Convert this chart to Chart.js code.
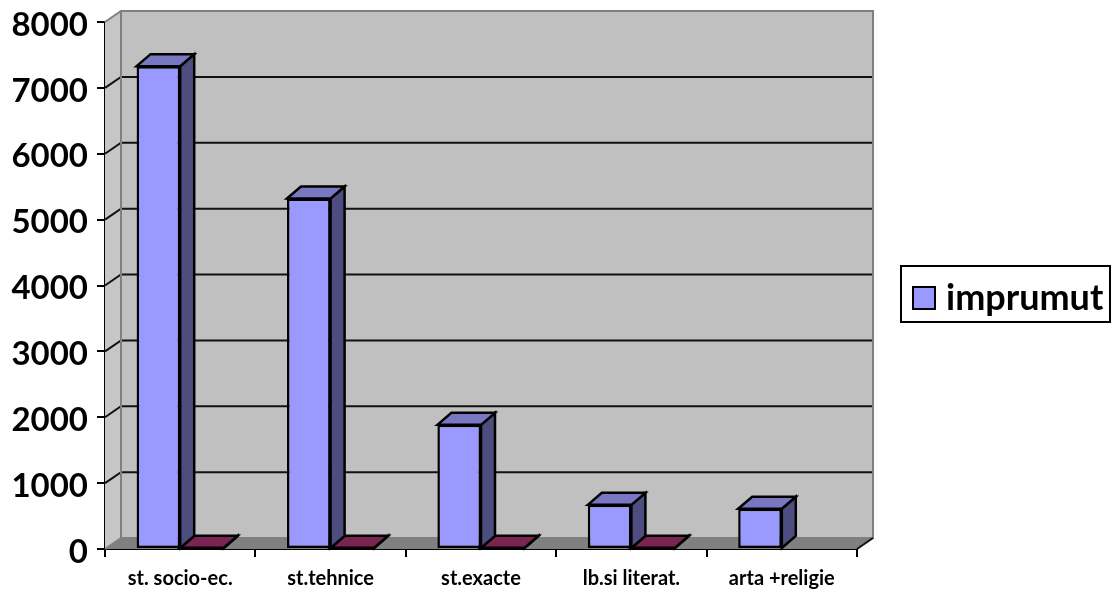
<!DOCTYPE html>
<html>
<head>
<meta charset="utf-8">
<style>html,body{margin:0;padding:0;background:#fff}canvas{display:block}</style>
<script src="https://cdn.jsdelivr.net/npm/chart.js@4"></script>
</head>
<body>
<canvas id="c" width="1112" height="589"></canvas>
<script>
const categories = ["st. socio-ec.", "st.tehnice", "st.exacte", "lb.si literat.", "arta +religie"];
const imprumut = [7330, 5320, 1885, 670, 610];
const secondSeries = [20, 20, 20, 20, null];
const seriesName = "imprumut";
const yTicks = [0, 1000, 2000, 3000, 4000, 5000, 6000, 7000, 8000];

const FONT = "Lato, Carlito, sans-serif";
const wallDX = 16, wallDY = 11, barDX = 14, barDY = 12;

function poly(ctx, pts, fill, stroke, lw) {
  ctx.beginPath();
  pts.forEach((p, i) => i ? ctx.lineTo(p[0], p[1]) : ctx.moveTo(p[0], p[1]));
  ctx.closePath();
  if (fill) { ctx.fillStyle = fill; ctx.fill(); }
  if (stroke) { ctx.strokeStyle = stroke; ctx.lineWidth = lw || 2; ctx.lineJoin = "miter"; ctx.stroke(); }
}

const walls3d = {
  id: "walls3d",
  beforeDraw(chart) {
    chart.scales.y.getLabelItems().forEach(it => {
      if (!it._shifted) { it.options.translation[1] += 3; it._shifted = true; }
    });
  },
  beforeDatasetsDraw(chart) {
    const { ctx, chartArea: a, scales: { y } } = chart;
    const L = a.left, R = a.right, T = a.top, B = a.bottom;
    ctx.save();
    poly(ctx, [[L, T], [L + wallDX, T - wallDY], [L + wallDX, B - wallDY], [L, B]], "#C6C6C6");
    poly(ctx, [[L + wallDX, T - wallDY], [R + wallDX, T - wallDY], [R + wallDX, B - wallDY], [L + wallDX, B - wallDY]], "#C0C0C0");
    poly(ctx, [[L, B], [L + wallDX, B - wallDY], [R + wallDX, B - wallDY], [R, B]], "#808080");
    ctx.lineWidth = 2;
    yTicks.forEach(v => {
      if (v === 0 || v === 8000) return;
      const py = y.getPixelForValue(v);
      ctx.strokeStyle = "#111";
      ctx.beginPath();
      ctx.moveTo(L, py); ctx.lineTo(L + wallDX, py - wallDY); ctx.lineTo(R + wallDX, py - wallDY);
      ctx.stroke();
    });
    ctx.strokeStyle = "#808080";
    ctx.beginPath();
    ctx.moveTo(L, T); ctx.lineTo(L + wallDX, T - wallDY); ctx.lineTo(R + wallDX, T - wallDY);
    ctx.lineTo(R + wallDX, B - wallDY); ctx.lineTo(L + wallDX, B - wallDY); ctx.lineTo(L + wallDX, T - wallDY);
    ctx.moveTo(L + wallDX, B - wallDY); ctx.lineTo(L, B);
    ctx.stroke();
    ctx.strokeStyle = "#111";
    ctx.beginPath();
    ctx.moveTo(R, B); ctx.lineTo(R + wallDX, B - wallDY);
    ctx.stroke();

    const faces = [
      { top: "#7878C2", side: "#4D4D80" },
      { top: "#7A2452", side: "#4A0F30" }
    ];
    [1, 0].forEach(ds => {
      chart.getDatasetMeta(ds).data.forEach((el, i) => {
        if (chart.data.datasets[ds].data[i] == null) return;
        const p = el.getProps(["x", "y", "base", "width"], true);
        const l = p.x - p.width / 2, r = p.x + p.width / 2;
        poly(ctx, [[r, p.y], [r + barDX, p.y - barDY], [r + barDX, p.base - barDY], [r, p.base]], faces[ds].side, "#000", 2.5);
        poly(ctx, [[l, p.y], [l + barDX, p.y - barDY], [r + barDX, p.y - barDY], [r, p.y]], faces[ds].top, "#000", 2.5);
      });
    });
    ctx.restore();
  },
  afterDraw(chart) {
    const { ctx } = chart;
    ctx.save();
    ctx.strokeStyle = "#000"; ctx.lineWidth = 2;
    ctx.strokeRect(901, 266, 209, 56);
    ctx.fillStyle = chart.data.datasets[0].backgroundColor;
    ctx.fillRect(913, 287, 22, 22);
    ctx.strokeRect(913, 287, 22, 22);
    ctx.fillStyle = "#000";
    ctx.font = "bold 36px " + FONT;
    ctx.textBaseline = "alphabetic";
    ctx.textAlign = "left";
    ctx.fillText(chart.data.datasets[0].label, 946, 310);
    ctx.restore();
  }
};

new Chart(document.getElementById("c"), {
  type: "bar",
  data: {
    labels: categories,
    datasets: [
      { label: seriesName, data: imprumut, backgroundColor: "#9999FF", borderColor: "#000", borderWidth: 2.5, borderSkipped: false },
      { label: "", data: secondSeries, backgroundColor: "#660033", borderColor: "#000", borderWidth: 2.5, borderSkipped: false }
    ]
  },
  options: {
    responsive: false,
    animation: false,
    layout: { padding: { top: 22, right: 255, left: 0, bottom: 0 } },
    categoryPercentage: 0.58,
    barPercentage: 1,
    plugins: { legend: { display: false }, tooltip: { enabled: false }, title: { display: false } },
    scales: {
      x: {
        afterFit(s) { s.height = 40; s.paddingLeft = 0; s.paddingRight = 0; },
        border: { color: "#000", width: 2 },
        grid: { drawOnChartArea: false, drawTicks: true, tickLength: 8, color: "#000", lineWidth: 2, offset: true },
        ticks: { color: "#000", font: { family: FONT, size: 20, weight: "bold" }, padding: 10, maxRotation: 0, autoSkip: false }
      },
      y: {
        min: 0, max: 8000,
        afterFit(s) { s.width = 105; s.paddingTop = 0; s.paddingBottom = 0; },
        afterBuildTicks(s) { s.ticks = yTicks.map(v => ({ value: v })); },
        border: { color: "#000", width: 2 },
        grid: { drawOnChartArea: false, drawTicks: true, tickLength: 8, color: "#000", lineWidth: 2 },
        ticks: { color: "#000", font: { family: FONT, size: 33, weight: "bold" }, padding: 9, callback: v => String(v) }
      }
    }
  },
  plugins: [walls3d]
});
</script>
</body>
</html>
